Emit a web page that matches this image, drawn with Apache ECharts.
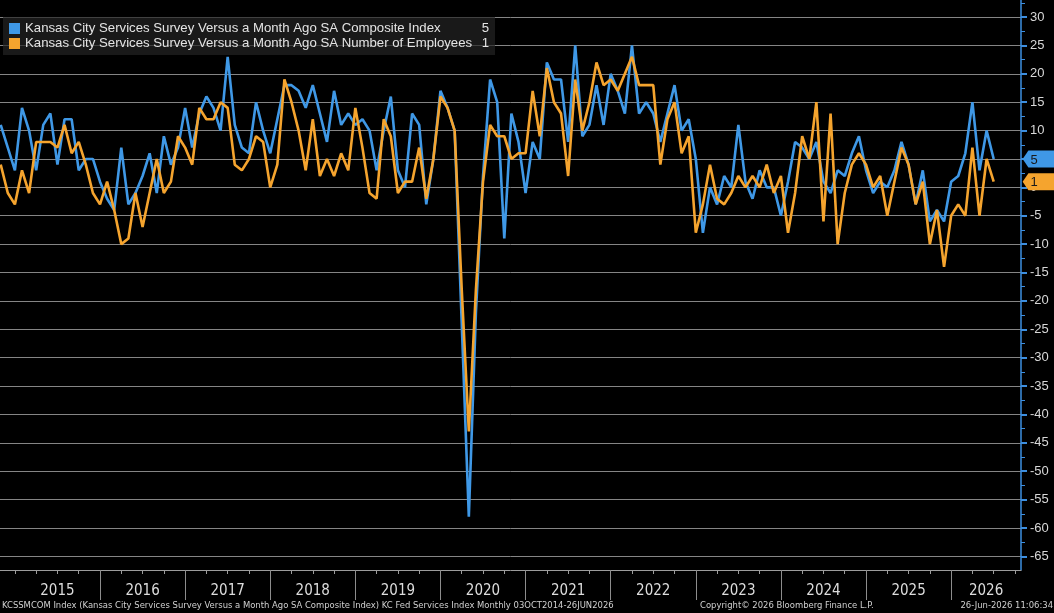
<!DOCTYPE html>
<html>
<head>
<meta charset="utf-8">
<title>Kansas City Services Survey</title>
<script src="https://cdn.jsdelivr.net/npm/echarts@6/dist/echarts.min.js"></script>
<style>
html, body { margin: 0; padding: 0; background: #000; }
#myChart { width: 1054px; height: 613px; }
</style>
</head>
<body>
<div id="myChart"></div>
<script>
// monthly readings, Oct 2014 .. Jun 2026 (index 0 = Oct 2014)
var compositeName = 'Kansas City Services Survey Versus a Month Ago SA Composite Index';
var employeesName = 'Kansas City Services Survey Versus a Month Ago SA Number of Employees';

var composite = [
  11, 7, 3, 14, 10, 3, 11, 13, 4, 12,
  12, 3, 5, 5, 1, -2, -4, 7, -3, -1,
  2, 6, -1, 9, 4, 7, 14, 7, 13, 16,
  14, 10, 23, 11, 7, 6, 15, 10, 6, 12,
  18, 18, 17, 14, 18, 13, 8, 17, 11, 13,
  11, 12, 10, 3, 10, 16, 3, 0, 13, 11,
  -3, 5, 17, 14, 10, -24, -58, -22, 2, 19,
  15, -9, 13, 8, -1, 8, 5, 22, 19, 19,
  8, 25, 9, 11, 18, 11, 20, 17, 13, 25,
  13, 15, 13, 8, 13, 18, 10, 12, 5, -8,
  0, -3, 2, 0, 11, 1, -2, 3, 0, 0,
  -5, 1, 8, 7, 5, 8, 1, -1, 3, 2,
  6, 9, 3, -1, 1, 0, 3, 8, 4, -3,
  3, -6, -4, -6, 1, 2, 6, 15, 3, 10, 5
];

var employees = [
  4, -1, -3, 3, -1, 8, 8, 8, 7, 11,
  6, 8, 4, -1, -3, 1, -4, -10, -9, -1,
  -7, -1, 5, -1, 1, 9, 7, 4, 14, 12,
  12, 15, 14, 4, 3, 5, 9, 8, 0, 4,
  19, 15, 10, 3, 12, 2, 5, 2, 6, 3,
  14, 7, -1, -2, 12, 9, -1, 1, 1, 7,
  -2, 5, 16, 14, 10, -18, -43, -18, 1, 11,
  9, 9, 5, 6, 6, 17, 9, 21, 15, 13,
  2, 19, 10, 15, 22, 18, 19, 17, 20, 23,
  18, 18, 18, 4, 12, 15, 6, 9, -8, -3,
  4, -2, -3, -1, 2, 0, 2, 0, 4, -1,
  2, -8, -1, 9, 5, 15, -6, 13, -10, -1,
  4, 6, 4, 0, 2, -5, 1, 7, 4, -3,
  1, -10, -4, -14, -5, -3, -5, 7, -5, 5, 1
];

var years = ['2015', '2016', '2017', '2018', '2019', '2020', '2021', '2022', '2023', '2024', '2025', '2026'];
var yTicks = [30, 25, 20, 15, 10, 5, 0, -5, -10, -15, -20, -25, -30, -35, -40, -45, -50, -55, -60, -65];
var yMinorTicks = [32.5, 27.5, 22.5, 17.5, 12.5, 7.5, 2.5, -2.5, -7.5, -12.5, -17.5, -22.5, -27.5, -32.5, -37.5, -42.5, -47.5, -52.5, -57.5, -62.5, -67.5];

var blue = '#3f98e6';
var orange = '#f5a42e';
var xMin = -0.1, xMax = 143.85;
var yMin = -67.4, yMax = 33;

// year boundaries sit after Dec of the previous year (index 2 = Dec 2014)
var yearStarts = years.map(function (y, i) { return 2 + 12 * i; });
var yearMids = years.map(function (y, i) { return 8 + 12 * i; });
yearMids[yearMids.length - 1] = (yearStarts[yearStarts.length - 1] + xMax) / 2;
var dividers = yearStarts.slice(1);
var quarterTicks = [];
for (var q = 2; q <= xMax; q += 3) quarterTicks.push(q);

function pairs(arr) { return arr.map(function (v, i) { return [i, v]; }); }

function endTag(value, color) {
  return {
    symbol: 'path://M0,9 L7,0 L40,0 L40,18 L7,18 Z',
    symbolSize: [33, 17],
    symbolOffset: ['55%', 0],
    symbolKeepAspect: false,
    itemStyle: { color: color },
    label: {
      show: true, position: 'inside', offset: [-5, 1],
      color: '#1a1a1a', fontSize: 13, fontFamily: 'Liberation Sans',
      formatter: String(value)
    },
    data: [{ coord: [xMax, value], value: value }]
  };
}

var font = '"Liberation Sans", Arial, sans-serif';
var narrow = '"Liberation Sans Narrow", "DejaVu Sans Condensed", sans-serif';
var plotRect = { left: 0, right: 33, top: 0, bottom: 43, containLabel: false, outerBoundsMode: 'none' };

var option = {
  backgroundColor: '#000',
  animation: false,
  // second grid has the same rect; it only carries the minor ticks of the right axis
  grid: [plotRect, plotRect],
  legend: {
    left: 3, top: 17, orient: 'vertical',
    backgroundColor: 'rgba(36,36,36,0.7)',
    padding: [5, 6, 5, 6],
    itemWidth: 11, itemHeight: 11, itemGap: 2,
    icon: 'rect', selectedMode: false,
    data: [compositeName, employeesName],
    formatter: function (name) {
      var v = name === compositeName ? composite[composite.length - 1] : employees[employees.length - 1];
      return '{n|' + name + '}{v|' + v + '}';
    },
    textStyle: {
      color: '#e4e4e4', fontSize: 13.2, fontFamily: font,
      rich: { n: { width: 454, lineHeight: 15 }, v: { width: 10, align: 'right', lineHeight: 15 } }
    }
  },
  xAxis: [{
    gridIndex: 0, type: 'value', min: xMin, max: xMax,
    axisLine: { show: true, onZero: false, lineStyle: { color: '#9c9c9c', width: 1 } },
    axisTick: { show: true, customValues: quarterTicks, length: 4, lineStyle: { color: '#9c9c9c', width: 1 } },
    axisLabel: {
      customValues: yearMids, color: '#dcdcdc', fontSize: 15, fontFamily: narrow, margin: 14,
      formatter: function (v) { return years[Math.floor((v - 2) / 12)]; }
    },
    splitLine: { show: false }
  }, {
    // year dividers: second x axis pulled down onto the bottom edge
    gridIndex: 0, type: 'value', min: xMin, max: xMax, position: 'top', offset: -570,
    axisLine: { show: false, onZero: false },
    axisTick: { show: true, inside: true, customValues: dividers, length: 30, lineStyle: { color: '#8c8c8c', width: 1 } },
    axisLabel: { show: false },
    splitLine: { show: false }
  }, {
    gridIndex: 1, type: 'value', min: xMin, max: xMax, show: false,
    axisLine: { onZero: false }
  }],
  yAxis: [{
    gridIndex: 0, type: 'value', position: 'right', min: yMin, max: yMax,
    axisLine: { show: true, onZero: false, lineStyle: { color: '#3d8fe0', width: 1.5 } },
    axisTick: { show: true, customValues: yTicks, length: 6, lineStyle: { color: '#3d8fe0', width: 2 } },
    axisLabel: { customValues: yTicks, color: '#d8d8d8', fontSize: 13, fontFamily: font, margin: 9 },
    splitLine: { show: true, lineStyle: { color: '#858585', width: 1 } }
  }, {
    gridIndex: 1, type: 'value', position: 'right', min: yMin, max: yMax,
    axisLine: { show: false, onZero: false },
    axisTick: { show: true, customValues: yMinorTicks, length: 4, lineStyle: { color: '#3d8fe0', width: 1 } },
    axisLabel: { show: false },
    splitLine: { show: false }
  }],
  series: [{
    name: compositeName, type: 'line', data: pairs(composite),
    xAxisIndex: 0, yAxisIndex: 0,
    symbol: 'none', z: 3,
    lineStyle: { color: blue, width: 2.6 }, itemStyle: { color: blue },
    markPoint: endTag(composite[composite.length - 1], blue)
  }, {
    name: employeesName, type: 'line', data: pairs(employees),
    xAxisIndex: 0, yAxisIndex: 0,
    symbol: 'none', z: 4,
    lineStyle: { color: orange, width: 2.6 }, itemStyle: { color: orange },
    markPoint: endTag(employees[employees.length - 1], orange)
  }],
  graphic: [
    { type: 'text', left: 2, top: 601, style: { text: 'KCSSMCOM Index (Kansas City Services Survey Versus a Month Ago SA Composite Index) KC Fed Services Index Monthly 03OCT2014-26JUN2026', fill: '#d0d0d0', font: '9.4px ' + narrow } },
    { type: 'text', left: 700, top: 601, style: { text: 'Copyright\u00a9 2026 Bloomberg Finance L.P.', fill: '#d0d0d0', font: '9.4px ' + narrow } },
    { type: 'text', right: 1, top: 601, style: { text: '26-Jun-2026 11:06:34', fill: '#d0d0d0', font: '9.4px ' + narrow } }
  ]
};

var myChart = echarts.init(document.getElementById('myChart'));
myChart.setOption(option);
</script>
</body>
</html>
